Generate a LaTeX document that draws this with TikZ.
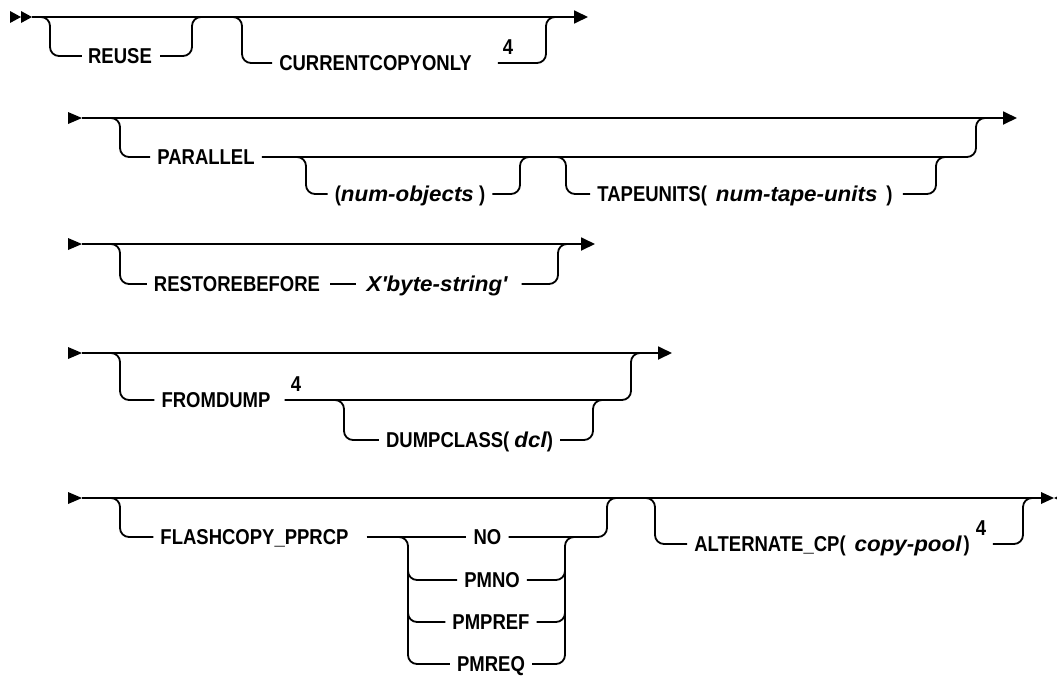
\documentclass[tikz,border=0pt]{standalone}
\usepackage{fontspec}
\setmainfont{Liberation Sans}[FakeStretch=0.86]
\newfontfamily\itfam{Liberation Sans}[FakeStretch=1.04]
\usetikzlibrary{arrows.meta}
\newcommand\varit[1]{{\itfam\bfseries\itshape #1}}
\begin{document}
\begin{tikzpicture}[x=1pt,y=-1pt,
  rail/.style={line width=1.8pt,rounded corners=9pt},
  lbl/.style={inner sep=0pt,font=\fontsize{21.5pt}{25pt}\selectfont\bfseries,text height=15.4pt,text depth=0pt},
  endtip/.style={-{Triangle[length=14pt,width=13pt]}}
]
\useasboundingbox (0,0) rectangle (1057,675);
\clip (0,0) rectangle (1057,675);

% ---------- row 1 ----------
\coordinate (r1s) at (32,17);
\coordinate (r1e) at (588,17);
\fill (10,11) -- (21,17) -- (10,23) -- cycle;
\fill (21,11) -- (32,17) -- (21,23) -- cycle;
\draw[rail,endtip] (r1s) -- (r1e);
\node[lbl] (reuse) at (120,56) {REUSE};
\draw[rail] (40,17) -| (50,56) -- ([xshift=-6pt]reuse.west);
\draw[rail] ([xshift=8pt]reuse.east) -| (192,17) -- (202,17);
\node[lbl] (cco) at (375.5,63) {CURRENTCOPYONLY};
\node[lbl] (n1) at (508,47) {4};
\draw[rail] (232,17) -| (242,63) -- ([xshift=-7pt]cco.west);
\draw[rail] ([xshift=26pt]cco.east) -| (546,17) -- (556,17);

% ---------- row 2 ----------
\coordinate (r2s) at (82,118);
\coordinate (r2e) at (1017,118);
\fill (68,112) -- (82,118) -- (68,124) -- cycle;
\draw[rail,endtip] (r2s) -- (r2e);
\node[lbl] (par) at (206,157) {PARALLEL};
\draw[rail] (110,118) -| (120,157) -- ([xshift=-7pt]par.west);
\draw[rail] ([xshift=7pt]par.east) -| (976,118) -- (986,118);
\node[lbl] (nobj) at (410,194) {(\varit{num-objects} )};
\draw[rail] (296,157) -| (306,194) -- ([xshift=-7pt]nobj.west);
\draw[rail] ([xshift=7pt]nobj.east) -| (520,157) -- (530,157);
\node[lbl] (tape) at (745,194) {TAPEUNITS(\hspace{9pt}\varit{num-tape-units}\hspace{9pt})};
\draw[rail] (556,157) -| (566,194) -- ([xshift=-7pt]tape.west);
\draw[rail] ([xshift=10pt]tape.east) -| (936,157) -- (946,157);

% ---------- row 3 ----------
\coordinate (r3s) at (82,244);
\coordinate (r3e) at (595,244);
\fill (68,238) -- (82,244) -- (68,250) -- cycle;
\draw[rail,endtip] (r3s) -- (r3e);
\node[lbl] (rb) at (237,284) {RESTOREBEFORE};
\node[lbl] (xb) at (437,284) {\varit{X\textquotesingle byte-string\textquotesingle}};
\draw[rail] (110,244) -| (120,284) -- ([xshift=-7pt]rb.west);
\draw[rail] ([xshift=10pt]rb.east) -- ([xshift=-10pt]xb.west);
\draw[rail] ([xshift=14pt]xb.east) -| (558,244) -- (568,244);

% ---------- row 4 ----------
\coordinate (r4s) at (82,353);
\coordinate (r4e) at (672,353);
\fill (68,347) -- (82,353) -- (68,359) -- cycle;
\draw[rail,endtip] (r4s) -- (r4e);
\node[lbl] (fd) at (216,400) {FROMDUMP};
\node[lbl] (n2) at (296,384) {4};
\draw[rail] (110,353) -| (120,400) -- ([xshift=-7pt]fd.west);
\draw[rail] ([xshift=14pt]fd.east) -| (631,353) -- (641,353);
\node[lbl] (dc) at (469.5,440) {DUMPCLASS( \varit{dcl})};
\draw[rail] (334,400) -| (344,440) -- ([xshift=-7pt]dc.west);
\draw[rail] ([xshift=7pt]dc.east) -| (593,400) -- (603,400);

% ---------- row 5 ----------
\coordinate (r5s) at (82,498);
\coordinate (r5e) at (1045,498);
\fill (68,492) -- (82,498) -- (68,504) -- cycle;
\draw[rail] (r5s) -- (r5e);
\fill (1041,492) -- (1054,498) -- (1041,504) -- cycle;
\fill (1067,492) -- (1054,498) -- (1067,504) -- cycle;
\node[lbl] (fc) at (254.5,537) {FLASHCOPY\_PPRCP};
\draw[rail] (110,498) -| (120,537) -- ([xshift=-7pt]fc.west);
\node[lbl] (no) at (487.5,537) {NO};
\draw[rail] ([xshift=18pt]fc.east) -- ([xshift=-7pt]no.west);
\draw[rail] ([xshift=7pt]no.east) -| (607,498) -- (617,498);
\node[lbl] (pmno) at (492,580) {PMNO};
\node[lbl] (pmpref) at (491,622) {PMPREF};
\node[lbl] (pmreq) at (491,664) {PMREQ};
\draw[rail] (398,537) -| (408,664) -- ([xshift=-7pt]pmreq.west);
\draw[rail] (408,570) |- ([xshift=-7pt]pmno.west);
\draw[rail] (408,612) |- ([xshift=-7pt]pmpref.west);
\draw[rail] ([xshift=7pt]pmreq.east) -| (565,537) -- (575,537);
\draw[rail] ([xshift=7pt]pmno.east) -| (565,571);
\draw[rail] ([xshift=7pt]pmpref.east) -| (565,613);
\node[lbl] (alt) at (832,544) {ALTERNATE\_CP(\hspace{9pt}\varit{copy-pool}\hspace{2pt})};
\node[lbl] (n3) at (981,528) {4};
\draw[rail] (645,498) -| (655,544) -- ([xshift=-7pt]alt.west);
\draw[rail] ([xshift=23pt]alt.east) -| (1023,498) -- (1033,498);
\end{tikzpicture}
\end{document}
